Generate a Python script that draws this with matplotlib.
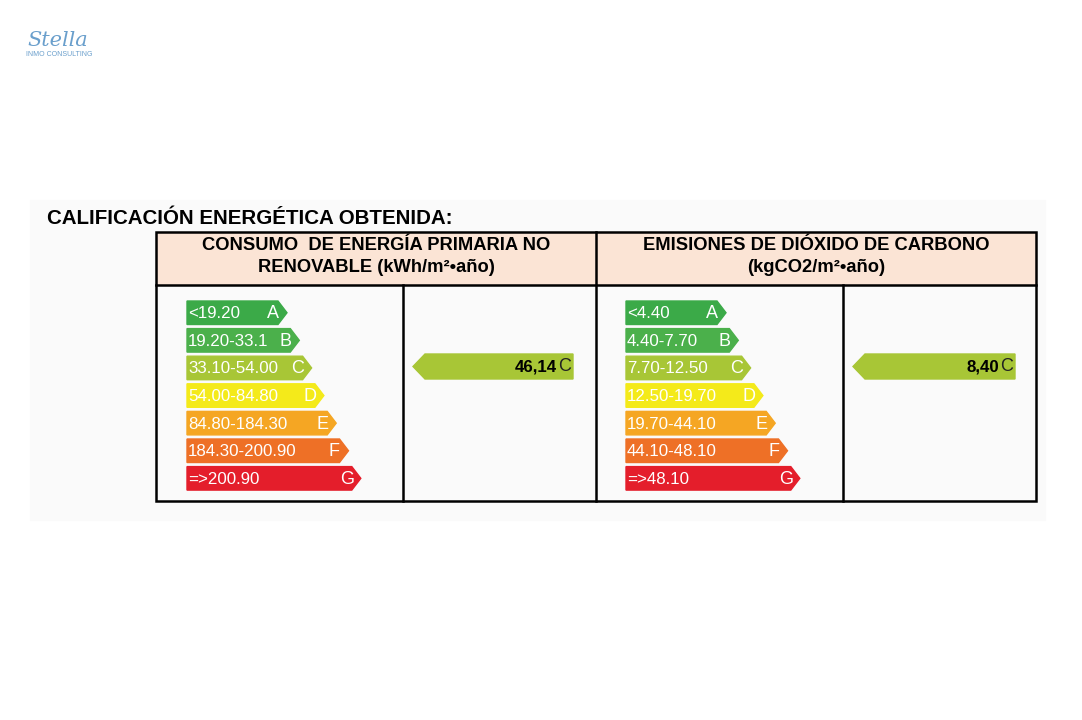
import matplotlib.pyplot as plt
from matplotlib.patches import Polygon, Rectangle

# datos
clases = ['A', 'B', 'C', 'D', 'E', 'F', 'G']
rangos_consumo = ['<19.20', '19.20-33.1', '33.10-54.00', '54.00-84.80',
                  '84.80-184.30', '184.30-200.90', '=>200.90']
rangos_emisiones = ['<4.40', '4.40-7.70', '7.70-12.50', '12.50-19.70',
                    '19.70-44.10', '44.10-48.10', '=>48.10']
valor_consumo = '46,14'
valor_emisiones = '8,40'
clase_obtenida = 'C'
colores = ['#3BAA48', '#4BB04B', '#A8C636', '#F4EA1A', '#F5A623', '#EE7026', '#E41E2B']

plt.rcParams['font.family'] = ['Liberation Sans', 'DejaVu Sans']

fig = plt.figure(figsize=(10.82, 7.2), dpi=100)
ax = fig.add_axes([0, 0, 1, 1])
ax.set_xlim(0, 1082)
ax.set_ylim(720, 0)
ax.axis('off')

# fondo gris muy claro
ax.add_patch(Rectangle((30, 200), 1015, 320, color='#FAFAFA', zorder=0))

# logo
ax.text(58, 41, 'Stella', fontsize=15, style='italic', family='DejaVu Serif',
        color='#6A9FCC', ha='center', va='center')
ax.text(59, 55, 'INMO CONSULTING', fontsize=5, color='#6A9FCC', ha='center', va='center')

# titulo
ax.text(47, 219, 'CALIFICACIÓN ENERGÉTICA OBTENIDA:', fontsize=14.8, fontweight='bold',
        ha='left', va='center')

# tabla
ax.add_patch(Rectangle((156, 232), 880, 53, facecolor='#FBE4D5', edgecolor='none', zorder=1))
ax.add_patch(Rectangle((156, 232), 880, 269, fill=False, edgecolor='black', lw=1.8, zorder=3))
ax.plot([156, 1036], [285, 285], color='black', lw=1.8, zorder=3)
ax.plot([596, 596], [232, 501], color='black', lw=1.8, zorder=3)
ax.plot([403, 403], [285, 501], color='black', lw=1.8, zorder=3)
ax.plot([843, 843], [285, 501], color='black', lw=1.8, zorder=3)

ax.text(376, 245, 'CONSUMO  DE ENERGÍA PRIMARIA NO', fontsize=13.2, fontweight='bold', ha='center', va='center')
ax.text(376, 267, 'RENOVABLE (kWh/m²•año)', fontsize=13.2, fontweight='bold', ha='center', va='center')
ax.text(816, 245, 'EMISIONES DE DIÓXIDO DE CARBONO', fontsize=13.2, fontweight='bold', ha='center', va='center')
ax.text(816, 267, '(kgCO2/m²•año)', fontsize=13.2, fontweight='bold', ha='center', va='center')


def escala(x0, rangos):
    for i, (letra, rango) in enumerate(zip(clases, rangos)):
        top = 301 + i * 27.6
        h = 23.5
        tip = x0 + 100 + 12.3 * i
        pts = [(x0, top), (tip - 9, top), (tip, top + h / 2), (tip - 9, top + h), (x0, top + h)]
        ax.add_patch(Polygon(pts, closed=True, color=colores[i], zorder=2))
        ax.text(x0 + 1, top + h / 2 + 1, rango, color='white', fontsize=12.2,
                ha='left', va='center', zorder=4)
        ax.text(tip - 14, top + h / 2 + 1, letra, color='white', fontsize=13,
                fontweight='light', ha='center', va='center', zorder=4)


def indicador(x_tip, x_end, valor):
    i = clases.index(clase_obtenida)
    top, h = 354, 25
    pts = [(x_tip, top + h / 2), (x_tip + 12, top), (x_end, top), (x_end, top + h), (x_tip + 12, top + h)]
    ax.add_patch(Polygon(pts, closed=True, color=colores[i], zorder=2))
    ax.text(x_end - 16, top + h / 2 + 1, valor, fontsize=12.2, fontweight='bold',
            ha='right', va='center', zorder=4)
    ax.text(x_end - 15, top + h / 2, clase_obtenida, fontsize=13, color='#222222',
            ha='left', va='center', zorder=4)


escala(187, rangos_consumo)
escala(626, rangos_emisiones)
indicador(413, 573, valor_consumo)
indicador(853, 1015, valor_emisiones)

plt.savefig('out.png', dpi=100)
